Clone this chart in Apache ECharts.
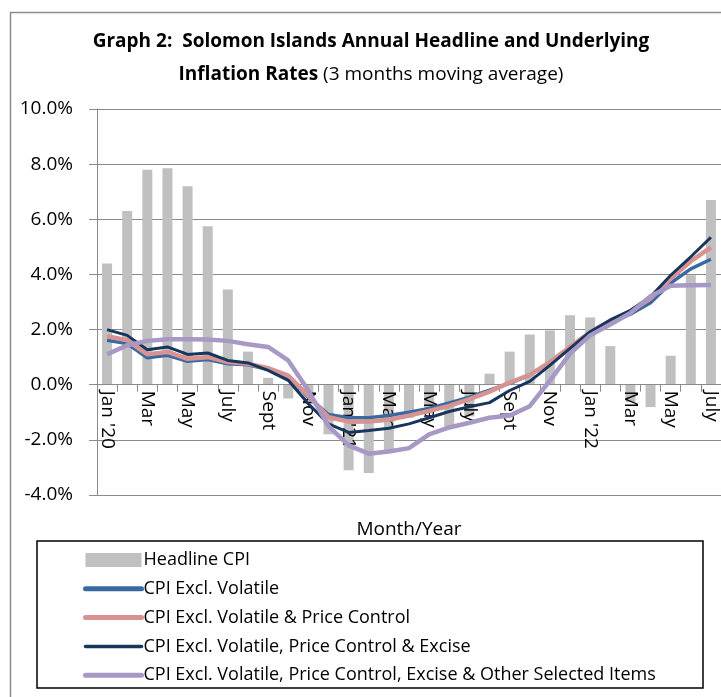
<!DOCTYPE html>
<html>
<head>
<meta charset="utf-8">
<script src="https://cdn.jsdelivr.net/npm/echarts@6/dist/echarts.min.js"></script>
<style>
  html, body { margin: 0; padding: 0; background: #fff; }
  #chart { width: 721px; height: 697px; }
</style>
</head>
<body>
<div id="chart"></div>
<script>
// month labels, only every other one is shown on the axis
const months = ["Jan '20", "Feb", "Mar", "Apr", "May", "Jun", "July", "Aug", "Sept", "Oct", "Nov", "Dec",
  "Jan '21", "Feb", "Mar", "Apr", "May", "Jun", "July", "Aug", "Sept", "Oct", "Nov", "Dec",
  "Jan '22", "Feb", "Mar", "Apr", "May", "Jun", "July"];

const headlineCPI = [4.4, 6.3, 7.8, 7.85, 7.2, 5.75, 3.45, 1.2, 0.25, -0.5, -0.6, -1.8,
  -3.1, -3.2, -2.4, -1.2, -1.05, -1.55, -1.15, 0.4, 1.2, 1.82, 1.97, 2.52,
  2.44, 1.4, -0.63, -0.81, 1.05, 3.97, 6.7];

const exclVolatile = [1.61, 1.49, 0.98, 1.07, 0.85, 0.91, 0.76, 0.72, 0.55, 0.28, -0.45, -1.08,
  -1.2, -1.2, -1.12, -1.0, -0.86, -0.66, -0.45, -0.2, 0.05, 0.35, 0.8, 1.35,
  1.88, 2.25, 2.56, 2.97, 3.69, 4.2, 4.55];

const exclPriceControl = [1.76, 1.61, 1.1, 1.19, 0.94, 1.0, 0.82, 0.76, 0.6, 0.33, -0.4, -1.18,
  -1.34, -1.33, -1.27, -1.12, -0.95, -0.77, -0.52, -0.25, 0.08, 0.36, 0.82, 1.37,
  1.9, 2.32, 2.64, 3.13, 3.85, 4.48, 4.98];

const exclExcise = [2.0, 1.79, 1.27, 1.37, 1.1, 1.15, 0.88, 0.79, 0.52, 0.16, -0.69, -1.42,
  -1.73, -1.66, -1.58, -1.42, -1.2, -0.97, -0.8, -0.65, -0.21, 0.12, 0.7, 1.32,
  1.92, 2.35, 2.7, 3.19, 3.97, 4.64, 5.35];

const exclOther = [1.1, 1.43, 1.59, 1.65, 1.65, 1.64, 1.59, 1.47, 1.37, 0.88, -0.21, -1.5,
  -2.2, -2.5, -2.42, -2.3, -1.8, -1.55, -1.38, -1.2, -1.12, -0.78, 0.15, 1.13,
  1.79, 2.18, 2.6, 3.21, 3.59, 3.61, 3.62];

const yTicks = { min: -4, max: 10, step: 2 };

const font = "Open Sans";
const gridColor = "#8a8a8a";

// grid geometry: the x axis sits on the 0% line, so it is lifted from the bottom by this much
const gridTop = 109, gridHeight = 386;
const zeroOffset = gridHeight * (0 - yTicks.min) / (yTicks.max - yTicks.min);

let myChart = echarts.init(document.getElementById("chart"));

// line legend entries: hide the symbol, keep only a thick line
function lineLegend(name, width) {
  return { name: name, itemStyle: { opacity: 0 }, lineStyle: { width: width, cap: "round" } };
}

let option = {
  backgroundColor: "#fff",
  animation: false,
  title: {
    left: 366,
    top: 20,
    textAlign: "center",
    text: "{b|Graph 2:  Solomon Islands Annual Headline and Underlying}\n{b|Inflation Rates} {r|(3 months moving average)}",
    textStyle: {
      align: "center",
      rich: {
        b: { fontFamily: font, fontWeight: "bold", fontSize: 19, color: "#000", lineHeight: 33 },
        r: { fontFamily: font, fontWeight: "normal", fontSize: 19, color: "#000", lineHeight: 33 },
      },
    },
  },
  graphic: [
    {
      type: "rect",
      shape: { x: 10.5, y: 12.5, width: 730, height: 720 },
      style: { fill: "none", stroke: "#8c8c8c", lineWidth: 1.5 },
      silent: true,
    },
    {
      type: "rect",
      shape: { x: 37, y: 541, width: 666, height: 147 },
      style: { fill: "none", stroke: "#000", lineWidth: 1.5 },
      silent: true,
    },
  ],
  legend: {
    orient: "vertical",
    left: 83,
    top: 551,
    padding: 0,
    itemWidth: 56,
    itemHeight: 14,
    itemGap: 10.8,
    textStyle: { fontFamily: font, fontSize: 18, color: "#000", padding: [0, 0, 0, -3] },
    data: [
      { name: "Headline CPI", icon: "rect" },
      lineLegend("CPI Excl. Volatile", 5),
      lineLegend("CPI Excl. Volatile & Price Control", 5),
      lineLegend("CPI Excl. Volatile, Price Control & Excise", 3.5),
      lineLegend("CPI Excl. Volatile, Price Control, Excise & Other Selected Items", 5),
    ],
  },
  grid: {
    left: 97,
    top: gridTop,
    width: 630,
    height: gridHeight,
  },
  xAxis: {
    type: "category",
    data: months,
    offset: -zeroOffset,
    z: 3,
    name: "Month/Year",
    nameLocation: "middle",
    nameGap: 135,
    nameTextStyle: { fontFamily: font, fontSize: 19, color: "#000" },
    axisLine: { onZero: false, lineStyle: { color: gridColor, width: 1 } },
    axisTick: { show: true, interval: 0, length: 7, lineStyle: { color: gridColor } },
    axisLabel: {
      interval: 1,
      rotate: -90,
      margin: 6,
      fontFamily: font,
      fontSize: 19,
      color: "#000",
    },
  },
  yAxis: {
    type: "value",
    min: yTicks.min,
    max: yTicks.max,
    interval: yTicks.step,
    axisLine: { show: true, lineStyle: { color: gridColor, width: 1 } },
    axisTick: { show: true, length: 8, lineStyle: { color: gridColor } },
    splitLine: { lineStyle: { color: gridColor, width: 1 } },
    axisLabel: {
      margin: 24,
      fontFamily: font,
      fontSize: 19,
      color: "#000",
      formatter: (v) => v.toFixed(1) + "%",
    },
  },
  series: [
    {
      name: "Headline CPI",
      type: "bar",
      data: headlineCPI,
      barWidth: 10,
      z: 2,
      itemStyle: { color: "#c0c0c0" },
    },
    {
      name: "CPI Excl. Volatile",
      type: "line",
      data: exclVolatile,
      showSymbol: false,
      z: 4,
      lineStyle: { color: "#3a69a2", width: 3.5 },
      itemStyle: { color: "#3a69a2" },
    },
    {
      name: "CPI Excl. Volatile & Price Control",
      type: "line",
      data: exclPriceControl,
      showSymbol: false,
      z: 4,
      lineStyle: { color: "#d79391", width: 4.5 },
      itemStyle: { color: "#d79391" },
    },
    {
      name: "CPI Excl. Volatile, Price Control & Excise",
      type: "line",
      data: exclExcise,
      showSymbol: false,
      z: 4,
      lineStyle: { color: "#17365d", width: 3 },
      itemStyle: { color: "#17365d" },
    },
    {
      name: "CPI Excl. Volatile, Price Control, Excise & Other Selected Items",
      type: "line",
      data: exclOther,
      showSymbol: false,
      z: 4,
      lineStyle: { color: "#a798c5", width: 4.5 },
      itemStyle: { color: "#a798c5" },
    },
  ],
};

myChart.setOption(option);
</script>
</body>
</html>
